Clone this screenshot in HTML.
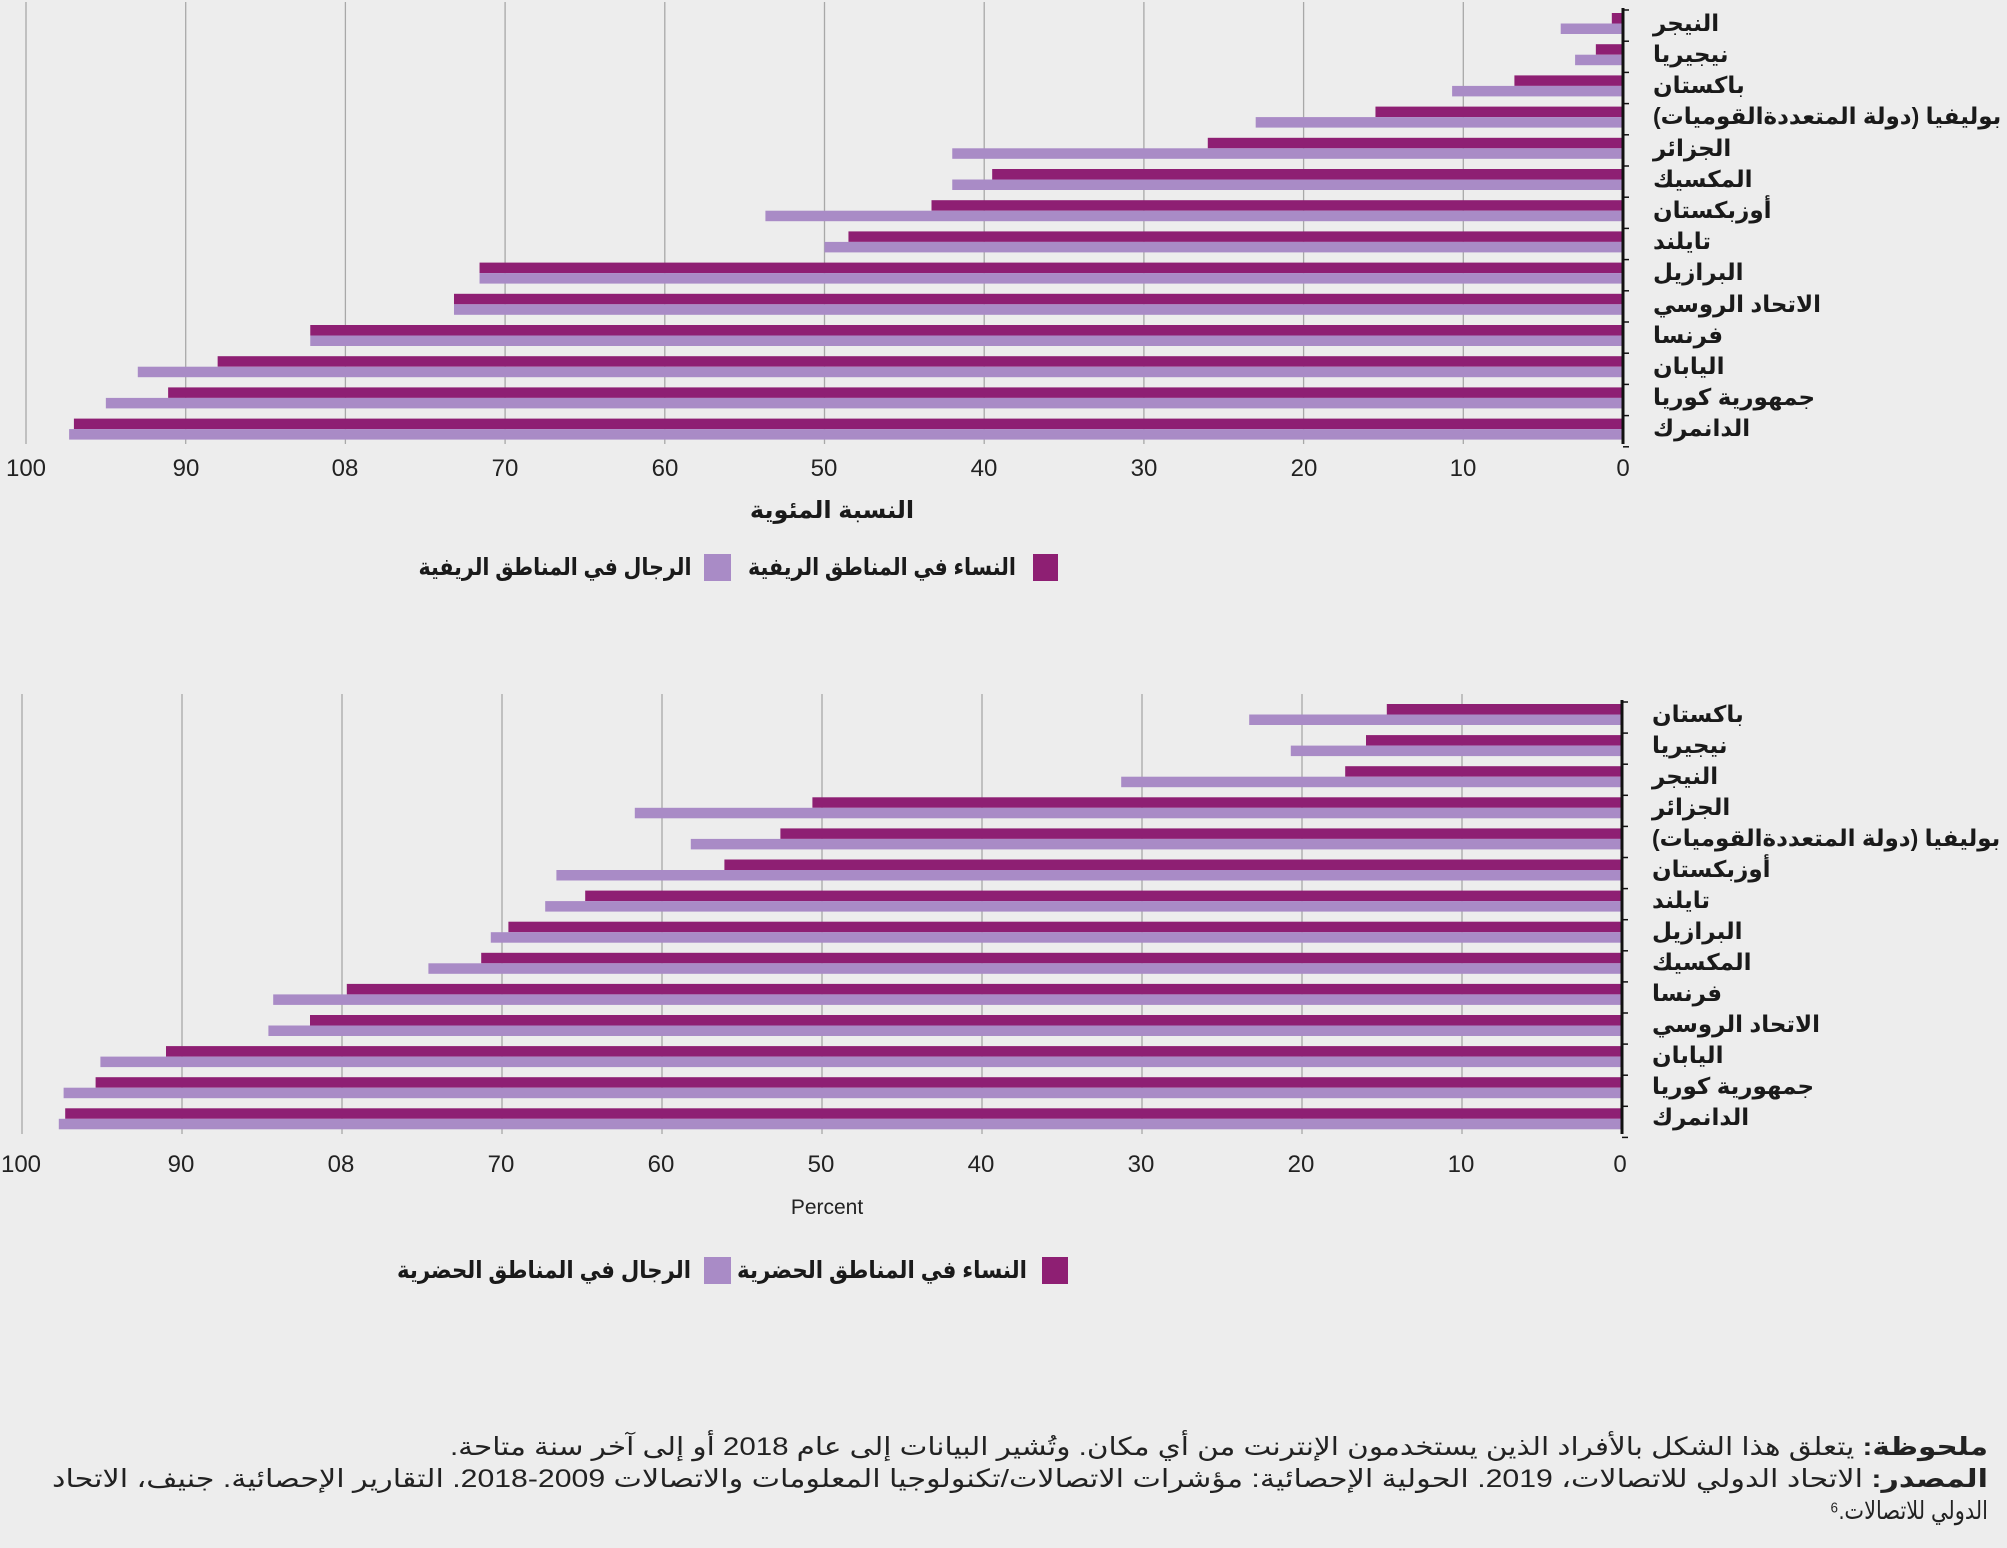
<!DOCTYPE html>
<html><head><meta charset="utf-8"><style>
html,body{margin:0;padding:0;background:#ededed}
svg{display:block}
text{font-family:"Liberation Sans","DejaVu Sans",sans-serif}
.lab{font-size:23px;font-weight:bold;fill:#1a1a1a}
.tick{font-size:24px;fill:#222}
.note{font-size:25px;fill:#222}
</style></head><body>
<svg id="s" width="2007" height="1548" xmlns="http://www.w3.org/2000/svg">
<rect width="2007" height="1548" fill="#ededed"/>
<g id="g1"></g>
<g id="g2"></g>
<g class="lab" direction="rtl" text-anchor="end">
<text x="1653" y="31">النيجر</text>
<text x="1653" y="62">نيجيريا</text>
<text x="1653" y="93">باكستان</text>
<text x="1653" y="124">بوليفيا (دولة المتعددةالقوميات)</text>
<text x="1653" y="156">الجزائر</text>
<text x="1653" y="187">المكسيك</text>
<text x="1653" y="218">أوزبكستان</text>
<text x="1653" y="249">تايلند</text>
<text x="1653" y="280">البرازيل</text>
<text x="1653" y="312">الاتحاد الروسي</text>
<text x="1653" y="343">فرنسا</text>
<text x="1653" y="374">اليابان</text>
<text x="1653" y="405">جمهورية كوريا</text>
<text x="1653" y="436">الدانمرك</text>
</g>
<g class="lab" direction="rtl" text-anchor="end">
<text x="1652" y="722">باكستان</text>
<text x="1652" y="753">نيجيريا</text>
<text x="1652" y="784">النيجر</text>
<text x="1652" y="815">الجزائر</text>
<text x="1652" y="846">بوليفيا (دولة المتعددةالقوميات)</text>
<text x="1652" y="877">أوزبكستان</text>
<text x="1652" y="908">تايلند</text>
<text x="1652" y="939">البرازيل</text>
<text x="1652" y="970">المكسيك</text>
<text x="1652" y="1001">فرنسا</text>
<text x="1652" y="1032">الاتحاد الروسي</text>
<text x="1652" y="1063">اليابان</text>
<text x="1652" y="1094">جمهورية كوريا</text>
<text x="1652" y="1125">الدانمرك</text>
</g>
<g class="tick" text-anchor="middle">
<text x="26" y="476">100</text><text x="186" y="476">90</text><text x="345" y="476">08</text>
<text x="505" y="476">70</text><text x="665" y="476">60</text><text x="824" y="476">50</text>
<text x="984" y="476">40</text><text x="1144" y="476">30</text><text x="1304" y="476">20</text>
<text x="1463" y="476">10</text><text x="1623" y="476">0</text>
</g>
<text x="832" y="518" text-anchor="middle" direction="rtl" class="lab" style="font-size:24px">النسبة المئوية</text>
<rect x="1033" y="554" width="25" height="27" fill="#8e1f73"/>
<text x="882" y="575" text-anchor="middle" textLength="268" lengthAdjust="spacingAndGlyphs" class="lab" style="font-size:24px">النساء في المناطق الريفية</text>
<rect x="704" y="554" width="27" height="27" fill="#a98bc6"/>
<text x="555" y="575" text-anchor="middle" textLength="273" lengthAdjust="spacingAndGlyphs" class="lab" style="font-size:24px">الرجال في المناطق الريفية</text>
<g class="tick" text-anchor="middle">
<text x="21" y="1172">100</text><text x="181" y="1172">90</text><text x="341" y="1172">08</text>
<text x="501" y="1172">70</text><text x="661" y="1172">60</text><text x="821" y="1172">50</text>
<text x="981" y="1172">40</text><text x="1141" y="1172">30</text><text x="1301" y="1172">20</text>
<text x="1461" y="1172">10</text><text x="1620" y="1172">0</text>
</g>
<text x="827" y="1214" text-anchor="middle" style="font-size:21px;fill:#222">Percent</text>
<rect x="1042" y="1257" width="26" height="27" fill="#8e1f73"/>
<text x="882" y="1278" text-anchor="middle" textLength="290" lengthAdjust="spacingAndGlyphs" class="lab" style="font-size:24px">النساء في المناطق الحضرية</text>
<rect x="704" y="1257" width="27" height="27" fill="#a98bc6"/>
<text x="544" y="1278" text-anchor="middle" textLength="294" lengthAdjust="spacingAndGlyphs" class="lab" style="font-size:24px">الرجال في المناطق الحضرية</text>
<g class="note" text-anchor="middle" direction="rtl">
<text x="1219" y="1455" textLength="1538" lengthAdjust="spacingAndGlyphs"><tspan font-weight="bold">ملحوظة:</tspan> يتعلق هذا الشكل بالأفراد الذين يستخدمون الإنترنت من أي مكان. وتُشير البيانات إلى عام 2018 أو إلى آخر سنة متاحة.</text>
<text x="1020" y="1487" textLength="1936" lengthAdjust="spacingAndGlyphs"><tspan font-weight="bold">المصدر:</tspan> الاتحاد الدولي للاتصالات، 2019. الحولية الإحصائية: مؤشرات الاتصالات/تكنولوجيا المعلومات والاتصالات 2009-2018. التقارير الإحصائية. جنيف، الاتحاد</text>
<text x="1909" y="1519" textLength="158" lengthAdjust="spacingAndGlyphs">الدولي للاتصالات.⁶</text>
</g>
</svg>
<script>
var NS="http://www.w3.org/2000/svg";
function el(g,t,a){var e=document.createElementNS(NS,t);for(var k in a)e.setAttribute(k,a[k]);g.appendChild(e);}
function chart(id,z,sc,y0,pitch,top,bot,data){
 var g=document.getElementById(id);
 for(var k=1;k<=10;k++){var x=z-sc*k*10;el(g,"line",{x1:x,x2:x,y1:top,y2:bot,stroke:"#a8a8a8","stroke-width":1.3});}
 data.forEach(function(d,i){var y=y0+pitch*i;
  el(g,"rect",{x:z-sc*d[0],y:y,width:sc*d[0],height:10.5,fill:"#8e1f73"});
  el(g,"rect",{x:z-sc*d[1],y:y+10.5,width:sc*d[1],height:10.5,fill:"#a98bc6"});});
 el(g,"line",{x1:z,x2:z,y1:top+6,y2:bot,stroke:"#111","stroke-width":3});
 for(var i=0;i<=14;i++){var y=top+8+pitch*i;el(g,"line",{x1:z,x2:z+6,y1:y,y2:y,stroke:"#111","stroke-width":1.5});}
}
chart("g1",1623,15.97,13,31.2,2,444,[[0.7,3.9],[1.7,3.0],[6.8,10.7],[15.5,23],[26,42],[39.5,42],[43.3,53.7],[48.5,50],[71.6,71.6],[73.2,73.2],[82.2,82.2],[88,93],[91.1,95],[97,97.3]]);
chart("g2",1622,16.0,704,31.1,694,1134,[[14.7,23.3],[16,20.7],[17.3,31.3],[50.6,61.7],[52.6,58.2],[56.1,66.6],[64.8,67.3],[69.6,70.7],[71.3,74.6],[79.7,84.3],[82,84.6],[91,95.1],[95.4,97.4],[97.3,97.7]]);
</script>
</body></html>
